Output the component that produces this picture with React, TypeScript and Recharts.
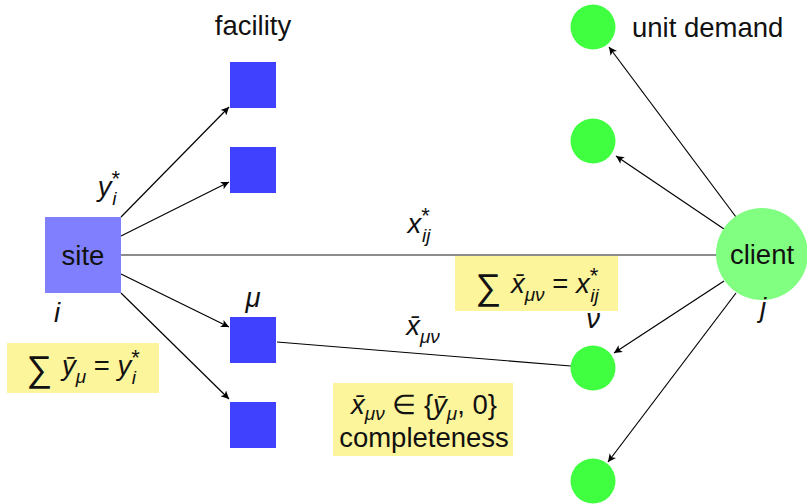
import React from 'react'
import {
  ScatterChart,
  Scatter,
  XAxis,
  YAxis,
  ReferenceLine,
  ReferenceArea,
} from 'recharts'

if (typeof document !== 'undefined') document.body.style.margin = '0'

// diagram coordinates (x right, y down)
const NODES = [
  { id: 'site', kind: 'site', x: 83, y: 255 },
  { id: 'f1', kind: 'facility', x: 253, y: 85 },
  { id: 'f2', kind: 'facility', x: 253, y: 170 },
  { id: 'f3', kind: 'facility', x: 253, y: 340 },
  { id: 'f4', kind: 'facility', x: 253, y: 425 },
  { id: 'client', kind: 'client', x: 762, y: 254 },
  { id: 'd1', kind: 'demand', x: 593, y: 27 },
  { id: 'd2', kind: 'demand', x: 593, y: 141 },
  { id: 'd3', kind: 'demand', x: 593, y: 368 },
  { id: 'd4', kind: 'demand', x: 593, y: 481 },
]

const EDGES = [
  { from: [121, 217], to: [229, 107], arrow: true },
  { from: [121, 236], to: [229, 182], arrow: true },
  { from: [121, 274], to: [229, 327], arrow: true },
  { from: [121, 293], to: [229, 399], arrow: true },
  { from: [121, 255], to: [717, 255], arrow: false, grey: true },
  { from: [277, 342], to: [571, 366], arrow: false },
  { from: [736, 217], to: [609, 47], arrow: true },
  { from: [724, 229], to: [616, 156], arrow: true },
  { from: [724, 281], to: [614, 353], arrow: true },
  { from: [736, 293], to: [608, 462], arrow: true },
]

const BOXES = [
  { x1: 7, x2: 159, y1: 343, y2: 393 },
  { x1: 455, x2: 618, y1: 256, y2: 311 },
  { x1: 333, x2: 513, y1: 383, y2: 456 },
]

const LABELS = [
  { id: 'facility', x: 253, y: 35 },
  { id: 'unitDemand', x: 632, y: 37 },
  { id: 'site', x: 83, y: 265 },
  { id: 'client', x: 762, y: 264 },
  { id: 'yStar', x: 109, y: 196 },
  { id: 'i', x: 57, y: 322 },
  { id: 'mu', x: 253, y: 307 },
  { id: 'xStar', x: 419, y: 233 },
  { id: 'xBar', x: 423, y: 335 },
  { id: 'nu', x: 593, y: 328 },
  { id: 'j', x: 763, y: 317 },
  { id: 'sumY', x: 83, y: 375 },
  { id: 'sumX', x: 537, y: 293 },
  { id: 'complete1', x: 424, y: 414 },
  { id: 'complete2', x: 424, y: 447 },
]

const FONT = '"Liberation Sans", "DejaVu Sans", sans-serif'
const FILL: Record<string, string> = {
  site: '#8080FF',
  facility: '#4040FF',
  client: '#80FF80',
  demand: '#40FF40',
}
const YELLOW = '#FCF59B'

type Part = { t: string; it?: boolean; size?: number; shift?: number; dx?: number }

const sub = (t: string, dx?: number, shift = 8): Part => ({ t, it: true, size: 19, shift, dx })
const star: Part = { t: '*', size: 22, shift: -10 }
const sigma: Part = { t: '∑ ', size: 36, shift: 6 }

function runs(parts: Part[]) {
  let cur = 0
  return parts.map((p, k) => {
    const s = p.shift ?? 0
    const dy = s - cur
    cur = s
    return (
      <tspan
        key={k}
        dy={dy || undefined}
        dx={p.dx}
        fontSize={p.size}
        fontStyle={p.it ? 'italic' : undefined}
      >
        {p.t}
      </tspan>
    )
  })
}

const MATH: Record<string, Part[]> = {
  facility: [{ t: 'facility' }],
  unitDemand: [{ t: 'unit demand' }],
  site: [{ t: 'site' }],
  client: [{ t: 'client' }],
  yStar: [{ t: 'y', it: true }, star, sub('i', -8, 9)],
  i: [{ t: 'i', it: true }],
  mu: [{ t: 'μ', it: true }],
  xStar: [{ t: 'x', it: true }, star, sub('ij', -8, 9)],
  xBar: [{ t: 'x\u0304', it: true }, sub('μν')],
  nu: [{ t: 'ν', it: true }],
  j: [{ t: 'j', it: true }],
  sumY: [sigma, { t: 'ȳ', it: true }, sub('μ'), { t: ' = ' }, { t: 'y', it: true }, star, sub('i', -8, 9)],
  sumX: [sigma, { t: 'x\u0304', it: true }, sub('μν'), { t: ' = ' }, { t: 'x', it: true }, star, sub('ij', -8, 9)],
  complete1: [{ t: 'x\u0304', it: true }, sub('μν', undefined, 6), { t: ' ∈ {' }, { t: 'ȳ', it: true }, sub('μ', undefined, 6), { t: ', 0}' }],
  complete2: [{ t: 'completeness' }],
}

function renderNode(p: any) {
  const { cx, cy, payload } = p
  const fill = FILL[payload.kind]
  if (payload.kind === 'site') return <rect x={cx - 38} y={cy - 38} width={76} height={76} fill={fill} />
  if (payload.kind === 'facility') return <rect x={cx - 23} y={cy - 23} width={46} height={46} fill={fill} />
  if (payload.kind === 'client') return <circle cx={cx} cy={cy} r={46} fill={fill} />
  return <circle cx={cx} cy={cy} r={22.5} fill={fill} />
}

function renderLabel(p: any) {
  const { cx, cy, payload } = p
  const anchor = payload.id === 'unitDemand' ? 'start' : 'middle'
  return (
    <text x={cx} y={cy} textAnchor={anchor} fontFamily={FONT} fontSize={27.5} fill="#111">
      {runs(MATH[payload.id])}
    </text>
  )
}

function Edge(props: any) {
  const { x1, y1, x2, y2, grey, arrow } = props
  return (
    <line
      x1={x1}
      y1={y1}
      x2={x2}
      y2={y2}
      stroke={grey ? '#666' : '#000'}
      strokeWidth={grey ? 1.6 : 1.2}
      markerEnd={arrow ? 'url(#arrowHead)' : undefined}
    />
  )
}

export default function App() {
  return (
    <div style={{ position: 'relative', width: 807, height: 504 }}>
      <svg width={0} height={0} style={{ position: 'absolute' }}>
        <defs>
          <marker
            id="arrowHead"
            viewBox="0 0 10 10"
            refX={10}
            refY={5}
            markerWidth={11}
            markerHeight={8}
            markerUnits="userSpaceOnUse"
            orient="auto"
          >
            <path d="M0,0 L10,5 L0,10 L2.5,5 z" fill="#000" />
          </marker>
        </defs>
      </svg>
      <ScatterChart width={807} height={504} margin={{ top: 0, right: 0, bottom: 0, left: 0 }}>
        <XAxis dataKey="x" type="number" domain={[0, 807]} hide />
        <YAxis dataKey="y" type="number" domain={[0, 504]} reversed hide />
        {BOXES.map((b, k) => (
          <ReferenceArea key={k} x1={b.x1} x2={b.x2} y1={b.y1} y2={b.y2} fill={YELLOW} fillOpacity={1} stroke="none" />
        ))}
        {EDGES.map((e, k) => (
          <ReferenceLine
            key={k}
            segment={[
              { x: e.from[0], y: e.from[1] },
              { x: e.to[0], y: e.to[1] },
            ]}
            shape={(p: any) => <Edge {...p} grey={e.grey} arrow={e.arrow} />}
          />
        ))}
        <Scatter data={NODES} shape={renderNode} isAnimationActive={false} />
        <Scatter data={LABELS} shape={renderLabel} isAnimationActive={false} />
      </ScatterChart>
    </div>
  )
}
